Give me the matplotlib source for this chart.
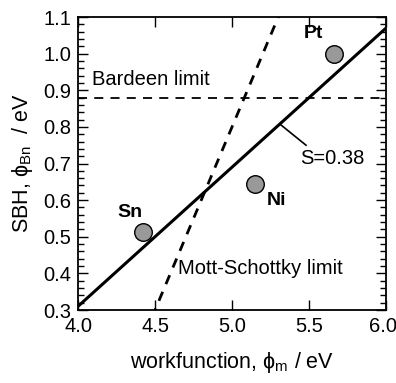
import numpy as np
import matplotlib
matplotlib.use("Agg")
import matplotlib.pyplot as plt
from matplotlib.ticker import MultipleLocator, FuncFormatter

plt.rcParams['font.family'] = ['Liberation Sans', 'DejaVu Sans']
plt.rcParams['mathtext.fontset'] = 'custom'
plt.rcParams['mathtext.rm'] = 'Liberation Sans'
plt.rcParams['mathtext.it'] = 'Liberation Sans:italic'

# metal workfunctions and measured barrier heights
metals = ['Sn', 'Ni', 'Pt']
workfunction = [4.42, 5.15, 5.66]
sbh = [0.513, 0.644, 0.999]

# fitted line (slope S) and the two limiting cases
S = 0.38
pin_phi = 5.5       # workfunction where fit meets the Bardeen level
bardeen_level = 0.88
affinity = 4.2      # Mott-Schottky: phi_B = phi_m - chi

fig = plt.figure(figsize=(3.96, 3.83), dpi=100)
ax = fig.add_axes([0.197, 0.1906, 0.778, 0.765])

x = np.array([4.0, 6.0])
ax.plot(x, bardeen_level + S * (x - pin_phi), color='black', lw=2.2)
ax.axhline(bardeen_level, color='black', lw=1.3, ls=(0, (5, 4)))
ax.plot(x, x - affinity, color='black', lw=2.0, ls=(0, (3.5, 3)))

ax.scatter(workfunction, sbh, s=160, facecolor='#999999', edgecolor='black',
           linewidth=1.0, zorder=5)

label_pos = {'Sn': (4.34, 0.567), 'Ni': (5.29, 0.60), 'Pt': (5.53, 1.056)}
for m in metals:
    ax.text(*label_pos[m], m, fontsize=14, fontweight='bold',
            ha='center', va='center')

ax.text(4.09, 0.928, 'Bardeen limit', fontsize=14.5, va='center')
ax.text(4.65, 0.414, 'Mott-Schottky limit', fontsize=14.5, va='center')
ax.plot([5.31, 5.48], [bardeen_level + S * (5.31 - pin_phi), 0.75],
        color='black', lw=1.2)
ax.text(5.44, 0.715, 'S=0.38', fontsize=14.5, va='center')

ax.set_xlim(4.0, 6.0)
ax.set_ylim(0.3, 1.1)
ax.xaxis.set_major_locator(MultipleLocator(0.5))
ax.yaxis.set_major_locator(MultipleLocator(0.1))
ax.yaxis.set_minor_locator(MultipleLocator(0.02))
# the 6.0 label is drawn separately so it stays inside the figure
ax.xaxis.set_major_formatter(FuncFormatter(lambda v, p: '' if v > 5.9 else '%.1f' % v))
ax.yaxis.set_major_formatter(plt.FormatStrFormatter('%.1f'))
ax.tick_params(which='both', direction='in', top=True, right=True,
               labelsize=14.5, width=1.0)
ax.tick_params(which='major', length=7, pad=5)
ax.tick_params(which='minor', length=4)
for sp in ax.spines.values():
    sp.set_linewidth(1.3)
ax.annotate('6.0', xy=(1, 0), xycoords='axes fraction', xytext=(8, -5),
            textcoords='offset points', ha='right', va='top', fontsize=14.5)

ax.set_xlabel('workfunction, ϕ$_{\\mathrm{m}}$ / eV', fontsize=15.5, labelpad=10)
ax.set_ylabel('SBH, ϕ$_{\\mathrm{Bn}}$  / eV', fontsize=15.5, labelpad=6)

fig.savefig('out.png', dpi=100)
